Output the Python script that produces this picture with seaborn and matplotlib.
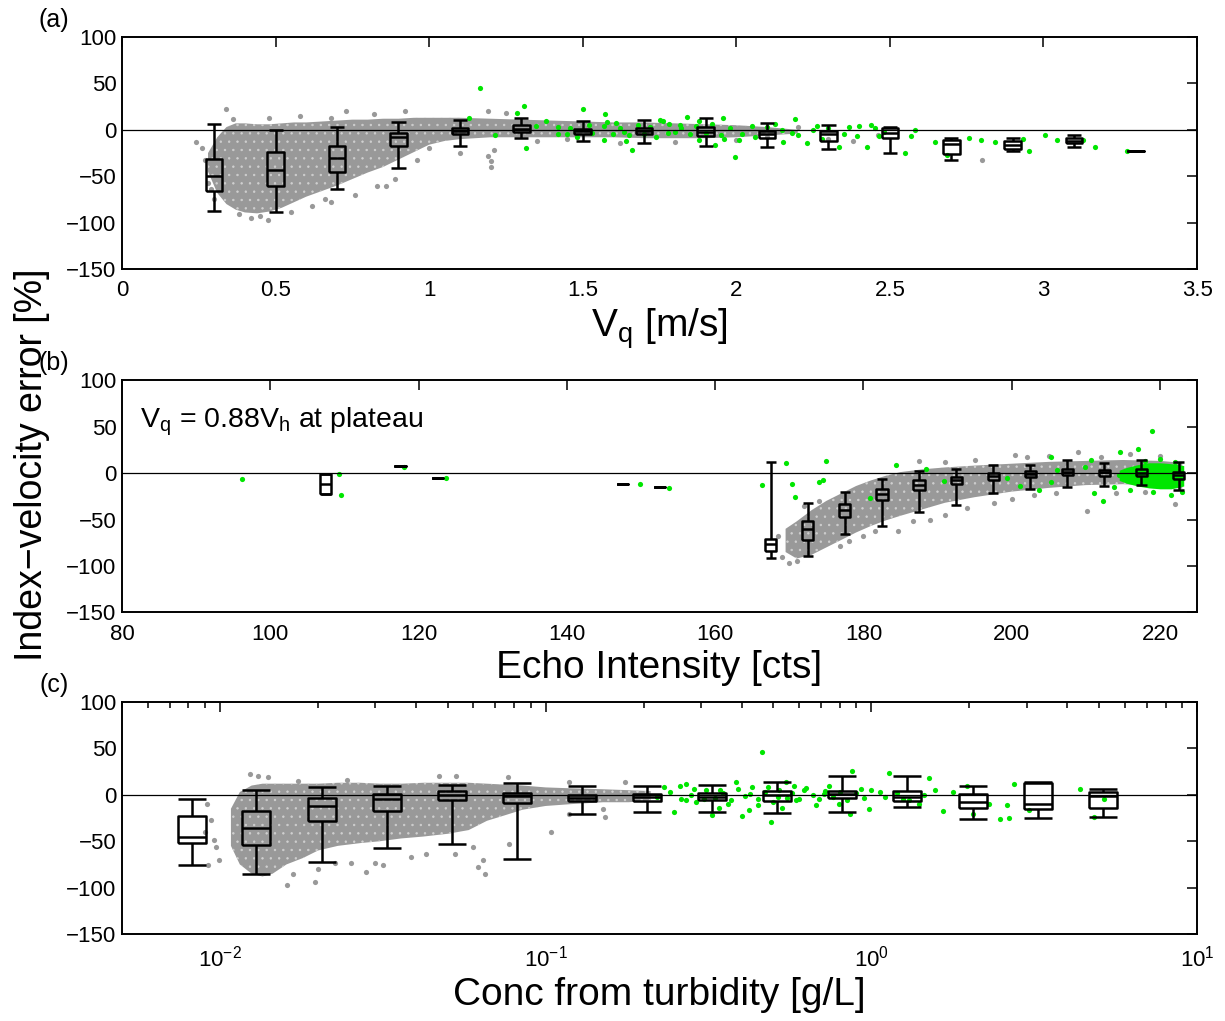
import matplotlib
matplotlib.use('Agg')
import matplotlib.pyplot as plt
import seaborn as sns

# ---------------- panel (a): error vs V_q ----------------
vq_bins = [0.3, 0.5, 0.7, 0.9, 1.1, 1.3, 1.5, 1.7, 1.9, 2.1, 2.3, 2.5, 2.7, 2.9, 3.1, 3.3]
vq_whishi = [6.5, 0, 3, 8, 11, 12.5, 9, 11, 13, 7, 5, 3, -9, -9, -6, -22.5]
vq_q3 = [-31, -24, -17, -3, 2.5, 4.7, 1.4, 2, 3, -1, -1, 2, -11, -12.5, -8.6, -22.5]
vq_med = [-50, -43, -30, -8, -1, 1.4, -1.4, -1.4, -2, -5, -5, -3.6, -15, -16.5, -11.5, -22.5]
vq_q1 = [-66, -60, -45, -17, -5, -2, -4, -5, -7, -9, -12, -9, -26, -21, -14, -22.5]
vq_whislo = [-87, -88, -64, -41, -17, -9, -12, -14, -17, -18, -21, -25, -33, -23, -19, -22.5]

# dense part of the grey cloud (envelope)
vq_cloud_x = [0.28, 0.31, 0.34, 0.37, 0.40, 0.44, 0.48, 0.52, 0.56, 0.60, 0.65, 0.70, 0.75, 0.80,
              0.85, 0.90, 0.95, 1.00, 1.05, 1.10, 1.20, 1.30, 1.40, 1.50, 1.60, 1.70, 1.80, 1.90,
              2.00, 2.10, 2.20]
vq_cloud_hi = [-25, -8, 3, 7, 7, 6, 6, 7, 8, 8, 9, 10, 11, 11, 12, 12, 13, 13, 13, 13, 12, 11,
               10, 9, 8, 8, 7, 6, 5, 3, 0]
vq_cloud_lo = [-45, -68, -80, -86, -89, -90, -88, -84, -78, -72, -66, -60, -53, -46, -40, -32,
               -24, -16, -12, -10, -8, -8, -8, -8, -8, -9, -9, -9, -8, -6, -4]

vq_gray_x = [0.24, 0.26, 0.27, 0.28, 0.29, 0.30, 0.34, 0.36, 0.38, 0.42, 0.45, 0.475, 0.48, 0.55,
             0.58, 0.62, 0.66, 0.68, 0.68, 0.73, 0.76, 0.82, 0.83, 0.86, 0.89, 0.92, 0.96, 1.0,
             1.1, 1.19, 1.2, 1.2, 1.21, 1.19, 1.25, 1.35, 1.45, 1.62, 1.8, 2.0, 2.1, 2.2, 2.3,
             2.38, 2.46, 2.8]
vq_gray_y = [-13, -20, -33, -57, -64, -75, 22, 12, -91, -95, -93, -97, 13, -88,
             15, -82, -75, -78, 13, 20, -70, 17, -60, -61, -53, 20, -32, -20,
             -25, -28, -34, -40, -22, 20, 18, -12, -10, -14, -13, -11, -8, 3, -10,
             -12, -6, -33]

vq_green_x = [1.164, 1.13, 1.213, 1.31, 1.316, 1.287, 1.348, 1.38, 1.42, 1.45, 1.5, 1.53, 1.573,
              1.57, 1.6, 1.568, 1.607, 1.633, 1.659, 1.75, 1.776, 1.815, 1.841, 1.88, 1.932,
              1.958, 1.997, 2.01, 2.05, 2.127, 2.153, 2.192, 2.231, 2.264, 2.335, 2.368, 2.394,
              2.426, 2.452, 2.465, 2.55, 2.569, 2.582, 2.647, 2.686, 2.757, 2.796, 2.842, 2.933,
              2.953, 3.005, 3.044, 3.128, 3.167, 3.271,
              1.62, 1.65, 1.68, 1.70, 1.72, 1.74, 1.78, 1.80, 1.82, 1.85, 1.87, 1.90, 1.92, 1.95,
              1.98, 2.02, 2.06, 2.10, 2.15, 2.20, 2.25, 2.30, 2.35, 2.40, 2.48, 1.52, 1.46, 1.42,
              1.48, 1.58, 1.64, 1.76, 1.88, 1.96, 2.18, 2.28, 2.44]
vq_green_y = [45.6, 12.6, -5.4, 26, -20, 18, 4, 9, 3.6, -5, 23, -3, 17,
              -11, -5, 4, 7, -2, -21.5, 11, -3.6, 5.4, 14, -11, -16,
              12.6, -29.5, -11, 4.3, 6.5, -12.6, 11.5, -14, 4.3, -18, 3.6, -7,
              -18, 1.8, -7, -25, -7, 0, -12.6, -27, -9, -11, -13.6, -10,
              -23, -5.4, -11, -11, -18, -22.6,
              2, -6, 5, -4, 3, -8, 6, -2, 2, -5, 4, -3, 6, -6,
              2, -4, -8, 3, 0, -6, 0, 2, -4, 4, -2, 5, 2, -4,
              -8, 8, -12, 9, 10, -10, -3, -10, 5]

# ---------------- panel (b): error vs echo intensity ----------------
echo_bins = [107.5, 117.5, 122.5, 147.5, 152.5, 167.5, 172.5, 177.5, 182.5, 187.5, 192.5,
             197.5, 202.5, 207.5, 212.5, 217.5, 222.5]
echo_whishi = [-1.4, 7, -5.7, -11.5, -15.4, 11.5, -32, -20.4, -6.4, 2, 4.3, 8.6, 9, 13.6,
               10.7, 13.6, 11.5]
echo_q3 = [-1.4, 7, -5.7, -11.5, -15.4, -70.5, -52, -33, -17, -8, -4.3, 0, 2, 4.7, 3.6, 4, 0.7]
echo_med = [-12, 7, -5.7, -11.5, -15.4, -76.6, -60.5, -40, -23, -13, -8, -3, -0.7, 1, 0.7,
            0.4, -2.5]
echo_q1 = [-23, 7, -5.7, -11.5, -15.4, -84, -71.6, -47, -29, -18.6, -12, -7, -4.3, -2.5, -3,
           -3.6, -6]
echo_whislo = [-23, 7, -5.7, -11.5, -15.4, -91, -89.5, -66, -57, -42, -34, -22, -17.5, -15,
               -14, -13, -18]

echo_cloud_x = [169.5, 171, 173, 175, 177, 179, 181, 183, 185, 188, 191, 195, 200, 205, 210,
                215, 220, 223]
echo_cloud_hi = [-60, -52, -40, -30, -22, -14, -8, -3, 1, 4, 6, 8, 10, 12, 13, 14, 13, 11]
echo_cloud_lo = [-85, -92, -88, -80, -72, -64, -57, -51, -46, -39, -32, -26, -20, -16, -13,
                 -12, -14, -17]

echo_gray_x = [168.5, 169, 170, 171, 172, 174, 176.8, 178, 180, 181.5, 184.6, 186.7, 189, 191,
               194, 197.6, 200, 203, 206, 210.2, 222, 209, 200.5, 202, 187.5, 191, 195, 205,
               212, 216, 220, 214, 218]
echo_gray_y = [-68, -90, -97, -95, -35, -30, -78, -73, -68, -62, -62, -52, -50, -45,
               -38, -32, -28, -24, -22, -41, -33, 23, 19, 17, 13, 12, 14, 18,
               17, 20, 18, -22, -20]

# dense green patch at the high-intensity end
echo_blob_x = [214.5, 215.5, 217, 218.5, 220, 221.5, 223.2]
echo_blob_hi = [3, 6, 9, 11, 11, 10, 8]
echo_blob_lo = [-8, -11, -14, -16, -17, -17, -14]

echo_green_x = [96.2, 109.2, 109.6, 118.1, 123.7, 149.9, 153.8, 166.3, 169.6, 170.4, 170.8,
                174.0, 174.6, 175.0, 180.9, 184.4, 188.4, 190.8, 199.4, 201.1, 203.7, 205.3,
                205.3, 206.1, 209.9, 210.7, 211.1, 212.3, 213.8, 214.6, 217.1, 218.9, 215.6,
                214.5, 216, 219, 221.5, 222, 220, 218, 223]
echo_green_y = [-6.8, -1.4, -23.3, 6.4, -5.7, -11.5, -15.8, -12.5, 11, -11.5, -26,
                -9.7, -7, 13, -26.5, 9, 4.7, -9, -5, -14, -18.6, 17,
                -9.7, 2.9, 6.4, 14, -22, -30, -15, 23, 25.8, 45.5, 1,
                -2.5, -18, -20, -24, 12, 15, 13, -20]

# ---------------- panel (c): error vs concentration ----------------
conc_bins = [0.0082, 0.0129, 0.0205, 0.0326, 0.0515, 0.0815, 0.129, 0.205, 0.324, 0.514,
             0.815, 1.29, 2.05, 3.24, 5.14]
conc_whishi = [-4.7, 5.7, 8, 9.3, 10.8, 13, 9, 9.3, 10.8, 13.6, 20, 20.8, 9, 13.3, 6.8]
conc_q3 = [-23.3, -17.6, -3.6, 0.7, 3.6, 2, 0, 1, 1.8, 3.6, 4, 4, 0.4, 12.5, 2.9]
conc_med = [-45.5, -35.9, -12.2, -4.7, -0.7, -1.4, -3.6, -2.5, -2.5, -0.7, 0.4, -2.5, -7.2,
            -9.7, -1.4]
conc_q1 = [-52, -54, -28.7, -17.6, -6, -9, -7, -7, -6, -7, -3.2, -6.8, -14, -15.4, -14.7]
conc_whislo = [-75.7, -85.4, -72.5, -57, -52.7, -69, -20.8, -18, -18, -19.4, -18.3, -13.3,
               -25.8, -25, -23.6]

conc_cloud_x = [0.0108, 0.0115, 0.0125, 0.0135, 0.0145, 0.016, 0.018, 0.02, 0.023, 0.027,
                0.031, 0.036, 0.042, 0.05, 0.058, 0.066, 0.075, 0.085, 0.1, 0.12, 0.15, 0.18,
                0.21]
conc_cloud_hi = [-15, 3, 10, 12, 12, 12, 12, 12, 13, 13, 12, 12, 13, 13, 13, 12, 11, 10, 8, 7,
                 6, 5, 4]
conc_cloud_lo = [-55, -75, -85, -88, -85, -75, -68, -60, -55, -52, -50, -47, -45, -42, -38,
                 -28, -22, -16, -12, -10, -8, -8, -6]

conc_gray_x = [0.0091, 0.00935, 0.0096, 0.0099, 0.0092, 0.0097, 0.0090, 0.01236, 0.0131, 0.0140,
               0.0161, 0.0167, 0.0195, 0.020, 0.0226, 0.0252, 0.028, 0.030, 0.0317, 0.0385,
               0.043, 0.0525, 0.062, 0.0651, 0.064, 0.060, 0.0772, 0.104, 0.118, 0.15, 0.047,
               0.053, 0.0245, 0.0173, 0.0765, 0.118, 0.152, 0.175]
conc_gray_y = [-9.7, -27.6, -49, -70.7, -76, -56, -40, 22.6, 20.8, 19,
               -97.6, -85, -94, -80, -74, -74, -83, -74, -76, -67,
               -63.5, -63.5, -78, -85, -70.7, -56, -52.7, -40, -20.4, -15, 20.8,
               20.8, 16, 15.4, 19, 13.6, -24, 13.6]

conc_green_x = [0.231, 0.248, 0.259, 0.270, 0.286, 0.307, 0.325, 0.343, 0.363, 0.384, 0.401,
                0.424, 0.448, 0.46, 0.48, 0.491, 0.516, 0.546, 0.586, 0.62, 0.674, 0.713, 0.798,
                0.857, 0.874, 0.932, 0.986, 1.06, 1.135, 1.25, 1.40, 1.50, 1.57, 1.66, 1.78,
                1.97, 2.05, 2.29, 2.49, 2.60, 2.64, 2.75, 3.04, 4.38, 4.84, 5.19,
                0.22, 0.24, 0.26, 0.28, 0.29, 0.31, 0.33, 0.35, 0.37, 0.39, 0.41, 0.43, 0.45,
                0.47, 0.50, 0.52, 0.55, 0.57, 0.60, 0.63, 0.66, 0.69, 0.72, 0.76, 0.80, 0.84,
                0.90, 0.95, 1.0, 1.1, 1.2, 1.3, 1.45, 0.34, 0.42, 0.53, 0.27, 0.58, 0.74]
conc_green_y = [8.2, -18.6, 10, -6, 6.5, -4.3, -22, 4.7, -9.7, 13.6, -23,
                1, -11.5, 46, 8, -29.4, -2.5, 13.6, -6, 4.7, -11.5, 1, -9.7,
                -20.4, 26, 6.5, -15, 3, 23.3, -4.3, -9.7, 18, 4.7, -17.6, 3,
                9, -20.4, -9.7, -25.8, -11.5, -24.7, 11.8, -16.8, 6.5, -24, -4.3,
                -2, 3, -5, 0, -8, 5, -3, 2, -6, 6, -1, 8, -4,
                3, -8, 5, -3, 2, -5, 7, 0, -4, 4, -2, 3, -6,
                2, -3, 5, -2, 2, -6, 0, -14, -16, -14, 12, 10, 9]

GRAY = '#999999'
GREEN = '#00e600'

sns.set_style('white')
plt.rcParams['font.family'] = ['Liberation Sans', 'DejaVu Sans']
plt.rcParams['mathtext.fontset'] = 'custom'
plt.rcParams['mathtext.rm'] = 'Liberation Sans'
plt.rcParams['mathtext.it'] = 'Liberation Sans:italic'
plt.rcParams['axes.unicode_minus'] = True
plt.rcParams['hatch.linewidth'] = 0.5
plt.rcParams['text.color'] = 'black'
plt.rcParams['axes.labelcolor'] = 'black'


def draw_boxes(ax, centers, lo, q1, med, q3, hi, half, cap, log=False):
    kw = dict(color='black', lw=1.8, solid_capstyle='butt', zorder=5)
    for c, a, b, m, d, e in zip(centers, lo, q1, med, q3, hi):
        if log:
            left, right = c / 10 ** half, c * 10 ** half
            cl, cr = c / 10 ** cap, c * 10 ** cap
        else:
            left, right = c - half, c + half
            cl, cr = c - cap, c + cap
        ax.plot([left, right, right, left, left], [b, b, d, d, b], **kw)
        ax.plot([left, right], [m, m], **kw)
        ax.plot([c, c], [d, e], **kw)
        ax.plot([c, c], [a, b], **kw)
        ax.plot([cl, cr], [e, e], **kw)
        ax.plot([cl, cr], [a, a], **kw)


def cloud(ax, x, lo, hi, color):
    # dense scatter region: solid fill with a light speckle
    ax.fill_between(x, lo, hi, facecolor=color, edgecolor='#d0d0d0', hatch='..',
                    lw=0, zorder=1)


def style_axis(ax):
    ax.set_ylim(-150, 100)
    ax.set_yticks([-150, -100, -50, 0, 50, 100])
    ax.axhline(0, color='black', lw=0.9, zorder=3)
    ax.tick_params(which='both', direction='in', top=True, right=True,
                   labelsize=16, width=1.1, colors='black')
    ax.tick_params(which='major', length=7)
    ax.tick_params(which='minor', length=4)
    ax.tick_params(axis='x', which='both', pad=8)
    ax.tick_params(axis='y', pad=4)
    for sp in ax.spines.values():
        sp.set_linewidth(1.4)
        sp.set_color('black')


fig = plt.figure(figsize=(12.25, 10.21), dpi=100)
ax_a = fig.add_axes([0.0996, 0.7365, 0.8776, 0.2272])
ax_b = fig.add_axes([0.0996, 0.4001, 0.8776, 0.2277])
ax_c = fig.add_axes([0.0996, 0.0852, 0.8776, 0.2272])

# panel (a)
cloud(ax_a, vq_cloud_x, vq_cloud_lo, vq_cloud_hi, GRAY)
sns.scatterplot(x=vq_gray_x, y=vq_gray_y, ax=ax_a, color=GRAY, s=14, linewidth=0, zorder=1)
sns.scatterplot(x=vq_green_x, y=vq_green_y, ax=ax_a, color=GREEN, s=14, linewidth=0, zorder=2)
draw_boxes(ax_a, vq_bins, vq_whislo, vq_q1, vq_med, vq_q3, vq_whishi, half=0.027, cap=0.023)
ax_a.set_xlim(0, 3.5)
ax_a.set_xticks([0, 0.5, 1, 1.5, 2, 2.5, 3, 3.5])
ax_a.set_xticklabels(['0', '0.5', '1', '1.5', '2', '2.5', '3', '3.5'])
ax_a.set_xlabel(r'$\mathregular{V_q}$ [m/s]', fontsize=28, labelpad=4)
style_axis(ax_a)

# panel (b)
cloud(ax_b, echo_cloud_x, echo_cloud_lo, echo_cloud_hi, GRAY)
sns.scatterplot(x=echo_gray_x, y=echo_gray_y, ax=ax_b, color=GRAY, s=14, linewidth=0, zorder=1)
ax_b.fill_between(echo_blob_x, echo_blob_lo, echo_blob_hi, color=GREEN, lw=0, zorder=2)
sns.scatterplot(x=echo_green_x, y=echo_green_y, ax=ax_b, color=GREEN, s=14, linewidth=0, zorder=2)
draw_boxes(ax_b, echo_bins, echo_whislo, echo_q1, echo_med, echo_q3, echo_whishi,
           half=0.75, cap=0.68)
ax_b.set_xlim(80, 225)
ax_b.set_xticks([80, 100, 120, 140, 160, 180, 200, 220])
ax_b.set_xlabel('Echo Intensity [cts]', fontsize=28, labelpad=4)
ax_b.text(82.4, 55, r'$\mathregular{V_q}$ = 0.88$\mathregular{V_h}$ at plateau',
          fontsize=20.5, va='center', ha='left')
style_axis(ax_b)

# panel (c)
ax_c.set_xscale('log')
cloud(ax_c, conc_cloud_x, conc_cloud_lo, conc_cloud_hi, GRAY)
sns.scatterplot(x=conc_gray_x, y=conc_gray_y, ax=ax_c, color=GRAY, s=14, linewidth=0, zorder=1)
sns.scatterplot(x=conc_green_x, y=conc_green_y, ax=ax_c, color=GREEN, s=14, linewidth=0, zorder=2)
draw_boxes(ax_c, conc_bins, conc_whislo, conc_q1, conc_med, conc_q3, conc_whishi,
           half=0.043, cap=0.043, log=True)
ax_c.set_xlim(0.005, 10)
ax_c.set_xlabel('Conc from turbidity [g/L]', fontsize=28, labelpad=4)
style_axis(ax_c)

for ax in (ax_a, ax_b, ax_c):
    leg = ax.get_legend()
    if leg is not None:
        leg.remove()

fig.text(54 / 1225, 1 - 20 / 1021, '(a)', fontsize=18, ha='center', va='center')
fig.text(54 / 1225, 1 - 363 / 1021, '(b)', fontsize=18, ha='center', va='center')
fig.text(54 / 1225, 1 - 685 / 1021, '(c)', fontsize=18, ha='center', va='center')
fig.text(32 / 1225, 1 - 465 / 1021, 'Index\u2212velocity error [%]', fontsize=27,
         rotation=90, ha='center', va='center')

fig.savefig('out.png', dpi=100)
